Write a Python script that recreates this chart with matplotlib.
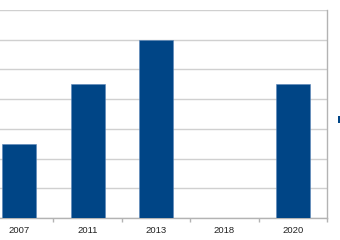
from pathlib import Path

import matplotlib

matplotlib.use("Agg")

import matplotlib.pyplot as plt
from matplotlib.patches import Patch
import numpy as np


years = ["2007", "2011", "2013", "2018", "2020"]

values = [2.5, 4.5, 6.0, 0.0, 4.5]


BAR_COLOR = "#004586"
GRID_COLOR = "#d0d0d0"
AXIS_COLOR = "#b3b3b3"


def _save_plot(
    path: Path
):

    plt.savefig(
        path,
        dpi=100
    )

    plt.close()

    return path


def draw_bars() -> Path:
    """
    Generate year bar chart.
    """

    plt.rcParams["font.family"] = ["Liberation Sans", "DejaVu Sans"]

    fig = plt.figure(
        figsize=(3.4, 2.4)
    )

    ax = fig.add_axes(
        [-15 / 340, 22 / 240, 342 / 340, 208 / 240]
    )

    x = np.arange(len(years))

    ax.bar(
        x,
        values,
        width=0.5,
        color=BAR_COLOR,
        edgecolor="#5a86b8",
        linewidth=0.4,
        zorder=3
    )

    ax.set_xlim(-0.5, len(years) - 0.5)
    ax.set_ylim(0, 7)

    ax.set_yticks(range(0, 8))
    ax.yaxis.grid(True, color=GRID_COLOR, linewidth=1.0, zorder=0)
    ax.tick_params(axis="y", length=0, labelleft=False)

    ax.set_xticks(x)
    ax.set_xticklabels(years)
    ax.set_xticks(np.arange(-0.5, len(years)), minor=True)
    ax.tick_params(axis="x", which="major", length=0, pad=6,
                   labelsize=6.8, labelcolor="#222222")
    ax.tick_params(axis="x", which="minor", length=3, width=1.0,
                   color=AXIS_COLOR)

    for side in ["top", "left"]:
        ax.spines[side].set_visible(False)
    for side in ["right", "bottom"]:
        ax.spines[side].set_color(AXIS_COLOR)
        ax.spines[side].set_linewidth(1.0)

    # legend key only; its text lies beyond the visible area
    fig.legend(
        handles=[Patch(facecolor=BAR_COLOR)],
        labels=[""],
        loc="center left",
        bbox_to_anchor=(338 / 340, 120 / 240),
        frameon=False,
        borderpad=0,
        borderaxespad=0,
        handlelength=0.7,
        handleheight=0.7,
        handletextpad=0,
        fontsize=7.5
    )

    return _save_plot(Path("out.png"))


draw_bars()
